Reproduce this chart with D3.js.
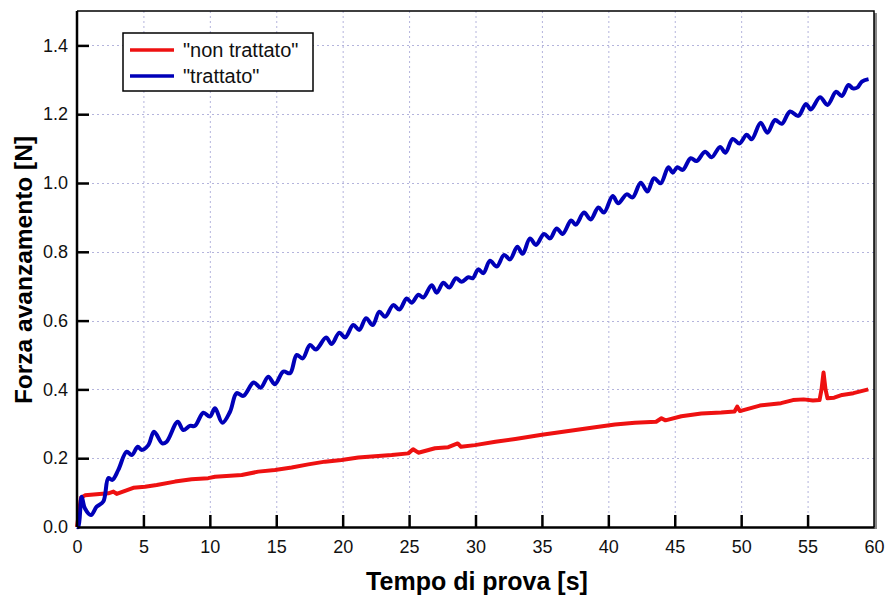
<!DOCTYPE html>
<html>
<head>
<meta charset="utf-8">
<script src="https://cdn.jsdelivr.net/npm/d3@7"></script>
<style>
  body { margin: 0; background: #fff; }
  text { font-family: "Liberation Sans", Arial, sans-serif; }
</style>
</head>
<body>
<div class="chart"></div>
<script>
// time [s] and force [N]
var blueT = [0, 0.1, 0.35, 0.6, 1.05, 1.48, 1.98, 2.36, 2.66, 3.11, 3.74, 4.12, 4.57, 4.87, 5.37, 5.8, 6.42, 6.75,
  7.58, 8.0, 8.5, 8.88, 9.51, 10.0, 10.39, 10.94, 11.52, 12.02, 12.52, 13.3, 13.83, 14.4, 14.9, 15.53, 16.04,
  16.54, 16.99, 17.54, 17.99, 18.75, 19.17, 19.75, 20.18, 20.8, 21.25, 21.76, 22.26, 22.76, 23.19, 23.81, 24.27,
  24.82, 25.2, 25.7, 26.07, 26.7, 27.08, 27.58, 28.03, 28.53, 28.96, 29.46, 29.79, 30.21, 30.59, 31.09, 31.6,
  32.15, 32.6, 33.15, 33.55, 34.1, 34.55, 35.16, 35.61, 36.11, 36.56, 37.2, 37.55, 38.17, 38.67, 39.25, 39.67,
  40.33, 40.75, 41.38, 41.83, 42.44, 42.94, 43.44, 43.94, 44.52, 44.85, 45.19, 45.6, 46.2, 46.65, 47.28, 47.78,
  48.41, 48.82, 49.36, 49.86, 50.42, 50.79, 51.47, 51.97, 52.55, 53.05, 53.68, 54.3, 54.88, 55.24, 55.94, 56.5,
  57.15, 57.58, 58.08, 58.41, 58.76, 59.09, 59.59];
var blueV = [0, 0.0, 0.088, 0.054, 0.035, 0.059, 0.074, 0.142, 0.137, 0.166, 0.219, 0.209, 0.233, 0.224, 0.238, 0.277, 0.243, 0.248,
  0.306, 0.282, 0.294, 0.294, 0.332, 0.321, 0.345, 0.303, 0.335, 0.389, 0.381, 0.42, 0.405, 0.437, 0.415, 0.452, 0.447,
  0.5, 0.49, 0.529, 0.516, 0.551, 0.532, 0.565, 0.551, 0.587, 0.573, 0.607, 0.587, 0.626, 0.611, 0.645, 0.632,
  0.664, 0.652, 0.675, 0.667, 0.703, 0.681, 0.71, 0.696, 0.723, 0.713, 0.726, 0.723, 0.749, 0.738, 0.774, 0.757,
  0.791, 0.778, 0.815, 0.794, 0.839, 0.82, 0.852, 0.839, 0.868, 0.852, 0.891, 0.879, 0.914, 0.894, 0.929, 0.914,
  0.962, 0.941, 0.967, 0.958, 1.001, 0.975, 1.014, 0.999, 1.046, 1.03, 1.046, 1.038, 1.072, 1.064, 1.091, 1.075,
  1.105, 1.088, 1.128, 1.115, 1.14, 1.127, 1.175, 1.146, 1.183, 1.172, 1.208, 1.195, 1.23, 1.214, 1.249, 1.227,
  1.265, 1.253, 1.285, 1.275, 1.278, 1.295, 1.302];

var redT = [0, 0.3, 0.6, 2.36, 2.74, 2.99, 4.24, 5.12, 6.0, 7.38, 8.63, 9.88, 10.39, 12.4, 13.65, 14.9, 16.16,
  17.41, 18.67, 19.92, 21.18, 22.43, 23.69, 24.94, 25.3, 25.7, 26.95, 27.95, 28.66, 28.91, 29.96, 31.5, 33, 35,
  37, 39, 40.5, 42, 43.6, 44.0, 44.3, 45.5, 47, 48.5, 49.5, 49.7, 49.9, 51.4, 53.0, 53.9, 54.7, 55.4, 55.9,
  56.05, 56.2, 56.35, 56.5, 57.0, 57.6, 58.45, 59.57];
var redV = [0, 0.085, 0.092, 0.098, 0.103, 0.096, 0.114, 0.117, 0.122, 0.132, 0.139, 0.142, 0.146, 0.151, 0.161, 0.166, 0.173,
  0.182, 0.19, 0.195, 0.202, 0.206, 0.209, 0.214, 0.226, 0.216, 0.229, 0.232, 0.243, 0.233, 0.238, 0.248, 0.256, 0.268,
  0.279, 0.29, 0.298, 0.303, 0.306, 0.316, 0.31, 0.322, 0.33, 0.333, 0.336, 0.35, 0.337, 0.353, 0.36, 0.369, 0.371, 0.368, 0.369,
  0.4, 0.449, 0.4, 0.374, 0.376, 0.384, 0.389, 0.4];

var xTicks = [0, 5, 10, 15, 20, 25, 30, 35, 40, 45, 50, 55, 60];
var yTicks = [0, 0.2, 0.4, 0.6, 0.8, 1.0, 1.2, 1.4];
var seriesNames = ['"non trattato"', '"trattato"'];
var seriesColors = ["#ee1111", "#0000b8"];

var W = 885, H = 597;
var plot = { left: 77, top: 11, right: 874, bottom: 527 };

var svg = d3.select(".chart").append("svg")
  .attr("width", W)
  .attr("height", H);

var x = d3.scaleLinear().domain([0, 60]).range([plot.left, plot.right]);
var y = d3.scaleLinear().domain([0, 1.5]).range([plot.bottom, plot.top]);

// grid
var grid = svg.append("g")
  .attr("stroke", "#b4b4dc")
  .attr("stroke-width", 1)
  .attr("stroke-dasharray", "2,3");
grid.selectAll(".gx").data(xTicks.slice(1, -1)).enter().append("line")
  .attr("x1", function (d) { return x(d) + 0.5; })
  .attr("x2", function (d) { return x(d) + 0.5; })
  .attr("y1", plot.top).attr("y2", plot.bottom);
grid.selectAll(".gy").data(yTicks.slice(1)).enter().append("line")
  .attr("y1", function (d) { return Math.round(y(d)) + 0.5; })
  .attr("y2", function (d) { return Math.round(y(d)) + 0.5; })
  .attr("x1", plot.left).attr("x2", plot.right);

// frame: shadow + thin top/right
svg.append("rect")
  .attr("x", plot.right).attr("y", plot.top + 2)
  .attr("width", 3).attr("height", plot.bottom - plot.top)
  .attr("fill", "#888");
svg.append("path")
  .attr("d", "M" + plot.left + "," + plot.top + "H" + plot.right + "V" + plot.bottom)
  .attr("fill", "none").attr("stroke", "#000").attr("stroke-width", 1.5);

// data lines
var toPts = function (ts, vs) {
  return ts.map(function (t, i) { return [t, vs[i]]; });
};
var line = d3.line()
  .x(function (d) { return x(d[0]); })
  .y(function (d) { return y(d[1]); });

svg.append("path")
  .datum(toPts(redT, redV))
  .attr("d", line.curve(d3.curveLinear))
  .attr("fill", "none")
  .attr("stroke", seriesColors[0])
  .attr("stroke-width", 4)
  .attr("stroke-linejoin", "round");

svg.append("path")
  .datum(toPts(blueT, blueV))
  .attr("d", line.curve(d3.curveCatmullRom))
  .attr("fill", "none")
  .attr("stroke", seriesColors[1])
  .attr("stroke-width", 4)
  .attr("stroke-linejoin", "round");

// axes with inward ticks
var xAxis = d3.axisBottom(x).tickValues(xTicks).tickSizeInner(-12).tickSizeOuter(0).tickPadding(13)
  .tickFormat(d3.format("d"));
var gx = svg.append("g").attr("transform", "translate(0," + plot.bottom + ")").call(xAxis);
gx.select(".domain").attr("stroke", "#000").attr("stroke-width", 2.5);
gx.selectAll(".tick line").attr("stroke", "#000").attr("stroke-width", 2.5);
gx.selectAll(".tick text").attr("font-size", 18).attr("fill", "#111")
  .attr("font-family", "Liberation Sans, Arial, sans-serif");
gx.selectAll(".tick").filter(function (d) { return d === 0 || d === 60; }).select("line").remove();

var yAxis = d3.axisLeft(y).tickValues(yTicks).tickSizeInner(-12).tickSizeOuter(0).tickPadding(9)
  .tickFormat(d3.format(".1f"));
var gy = svg.append("g").attr("transform", "translate(" + plot.left + ",0)").call(yAxis);
gy.select(".domain").attr("stroke", "#000").attr("stroke-width", 2.5)
  .attr("d", "M0," + plot.top + "V" + plot.bottom);
gy.selectAll(".tick line").attr("stroke", "#000").attr("stroke-width", 2.5);
gy.selectAll(".tick text").attr("font-size", 18).attr("fill", "#111")
  .attr("font-family", "Liberation Sans, Arial, sans-serif");
gy.selectAll(".tick").filter(function (d) { return d === 0; }).select("line").remove();

// axis titles
svg.append("text")
  .attr("x", 477)
  .attr("y", 590)
  .attr("text-anchor", "middle")
  .attr("font-size", 25)
  .attr("font-weight", "bold")
  .text("Tempo di prova [s]");

svg.append("text")
  .attr("transform", "translate(32,270) rotate(-90)")
  .attr("text-anchor", "middle")
  .attr("font-size", 24.5)
  .attr("font-weight", "bold")
  .text("Forza avanzamento [N]");

// legend
var legend = svg.append("g").attr("transform", "translate(123,33)");
legend.append("rect")
  .attr("width", 190).attr("height", 58)
  .attr("fill", "#fff").attr("stroke", "#000").attr("stroke-width", 1.5);
seriesNames.forEach(function (name, i) {
  var ly = 17 + i * 26;
  legend.append("line")
    .attr("x1", 7).attr("x2", 51).attr("y1", ly).attr("y2", ly)
    .attr("stroke", seriesColors[i]).attr("stroke-width", 3.5);
  legend.append("text")
    .attr("x", 60).attr("y", ly + 7)
    .attr("font-size", 20).attr("fill", "#111")
    .text(name);
});
</script>
</body>
</html>
